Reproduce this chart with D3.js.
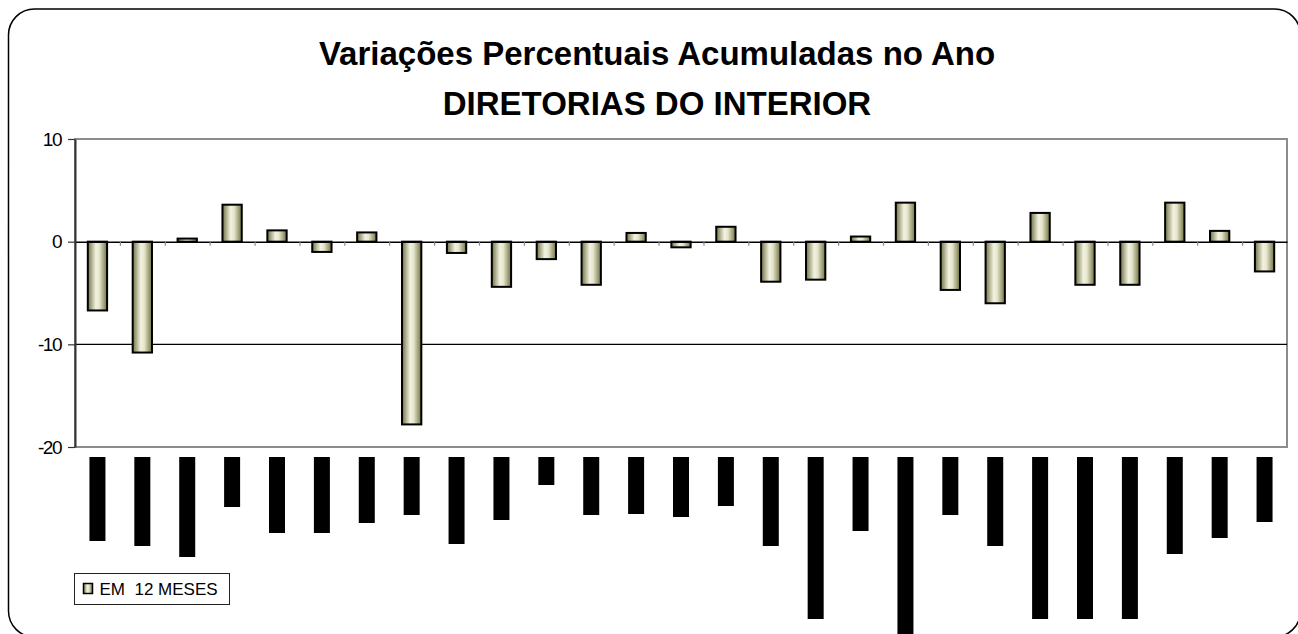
<!DOCTYPE html>
<html>
<head>
<meta charset="utf-8">
<script src="https://cdn.jsdelivr.net/npm/d3@7"></script>
<style>
  body { margin: 0; background: #fff; }
  svg { display: block; font-family: "Liberation Sans", Arial, sans-serif; }
</style>
</head>
<body>
<svg id="chart" width="1298" height="634"></svg>
<script>
// title lines
const titleLines = ["Variações Percentuais Acumuladas no Ano", "DIRETORIAS DO INTERIOR"];
const seriesName = "EM  12 MESES";

// one value per diretoria (27 categories), accumulated % change
const categories = d3.range(1, 28).map(i => "D" + i);
const values = [-6.7, -10.8, 0.3, 3.6, 1.1, -1.0, 0.9, -17.8, -1.1, -4.4,
  -1.7, -4.2, 0.85, -0.55, 1.45, -3.9, -3.7, 0.5, 3.8, -4.7,
  -6.0, 2.8, -4.2, -4.2, 3.8, 1.05, -2.9];

// category labels show up as solid black blocks, length
const labelBlocks = [84, 89, 100, 50, 76, 76, 66, 58, 87, 63,
  28, 58, 57, 60, 49, 89, 162, 74, 180, 58,
  89, 162, 162, 162, 97, 81, 65];

const yTicks = [-20, -10, 0, 10];

const width = 1298, height = 634;
const plot = { left: 75, right: 1287, top: 139, bottom: 447 };

const svg = d3.select("#chart");

/* ========== GRADIENT ========== */
const grad = svg.append("defs").append("linearGradient")
  .attr("id", "barGrad").attr("x1", 0).attr("x2", 1).attr("y1", 0).attr("y2", 0);
grad.append("stop").attr("offset", 0).attr("stop-color", "#727244");
grad.append("stop").attr("offset", 0.42).attr("stop-color", "#f2f2e2");
grad.append("stop").attr("offset", 0.6).attr("stop-color", "#e6e6cc");
grad.append("stop").attr("offset", 1).attr("stop-color", "#727244");

/* ========== OUTER FRAME ========== */
svg.append("rect")
  .attr("x", 8.5).attr("y", 9)
  .attr("width", 1292).attr("height", 628)
  .attr("rx", 26)
  .attr("fill", "none").attr("stroke", "#000").attr("stroke-width", 1.5);

/* ========== TITLE ========== */
svg.append("g").selectAll("text").data(titleLines).join("text")
  .attr("x", 657)
  .attr("y", (d, i) => 65 + i * 50)
  .attr("text-anchor", "middle")
  .style("font-size", "33px")
  .style("font-weight", "bold")
  .text(d => d);

/* ========== SCALES ========== */
const xScale = d3.scaleBand()
  .domain(categories)
  .range([plot.left, plot.right])
  .paddingInner(0.57)
  .paddingOuter(0.285);

const boundary = d3.scaleLinear()
  .domain([0, categories.length])
  .range([plot.left, plot.right]);

const yScale = d3.scaleLinear()
  .domain([-20, 10])
  .range([plot.bottom, plot.top]);

/* ========== PLOT FRAME + GRID ========== */
svg.append("rect")
  .attr("x", plot.left).attr("y", plot.top)
  .attr("width", plot.right - plot.left)
  .attr("height", plot.bottom - plot.top)
  .attr("fill", "none").attr("stroke", "#8c8c8c").attr("stroke-width", 2);

svg.append("g").selectAll("line").data([-10]).join("line")
  .attr("x1", plot.left).attr("x2", plot.right)
  .attr("y1", d => yScale(d)).attr("y2", d => yScale(d))
  .attr("stroke", "#000").attr("stroke-width", 1.2);

/* ========== BARS ========== */
svg.append("g").selectAll("rect").data(values).join("rect")
  .attr("x", (d, i) => xScale(categories[i]))
  .attr("width", xScale.bandwidth())
  .attr("y", d => yScale(Math.max(0, d)))
  .attr("height", d => Math.abs(yScale(d) - yScale(0)))
  .attr("fill", "url(#barGrad)")
  .attr("stroke", "#000").attr("stroke-width", 2);

/* ========== AXES ========== */
const xAxis = d3.axisBottom(boundary)
  .tickValues(d3.range(1, categories.length))
  .tickFormat("")
  .tickSize(4)
  .tickSizeOuter(0);

const xAxisSel = svg.append("g")
  .attr("transform", "translate(0," + yScale(0) + ")")
  .call(xAxis);
xAxisSel.select(".domain").attr("stroke", "#000").attr("stroke-width", 1.5);
xAxisSel.selectAll(".tick line").attr("stroke", "#888").attr("stroke-width", 1.2);

const yAxis = d3.axisLeft(yScale)
  .tickValues(yTicks)
  .tickFormat(d => String(d))
  .tickSize(7)
  .tickSizeOuter(0)
  .tickPadding(7);

const yAxisSel = svg.append("g")
  .attr("transform", "translate(" + plot.left + ",0)")
  .call(yAxis);
yAxisSel.select(".domain").attr("stroke", "#333").attr("stroke-width", 2);
yAxisSel.selectAll(".tick line").attr("stroke", "#333").attr("stroke-width", 1.2);
yAxisSel.selectAll(".tick text")
  .attr("fill", "#000")
  .style("font-size", "19px")
  .style("letter-spacing", "-1.5px")
  .style("font-family", "'Liberation Sans', Arial, sans-serif");

/* ========== CATEGORY LABEL BLOCKS ========== */
const blockScale = d3.scaleLinear().domain([0, 180]).range([0, 180]);
svg.append("g").selectAll("rect").data(labelBlocks).join("rect")
  .attr("x", (d, i) => xScale(categories[i]) + xScale.bandwidth() / 2 - 8)
  .attr("y", 457)
  .attr("width", 16)
  .attr("height", d => blockScale(d))
  .attr("fill", "#000");

/* ========== LEGEND ========== */
const legend = svg.append("g").attr("transform", "translate(74.5,573.5)");
legend.append("rect")
  .attr("width", 155).attr("height", 31)
  .attr("fill", "#fff").attr("stroke", "#222").attr("stroke-width", 1);
legend.append("rect")
  .attr("x", 9).attr("y", 10).attr("width", 9).attr("height", 10)
  .attr("fill", "url(#barGrad)").attr("stroke", "#000").attr("stroke-width", 1.5);
legend.append("text")
  .attr("x", 25).attr("y", 21)
  .style("font-size", "17px")
  .style("white-space", "pre")
  .attr("xml:space", "preserve")
  .text(seriesName);
</script>
</body>
</html>
